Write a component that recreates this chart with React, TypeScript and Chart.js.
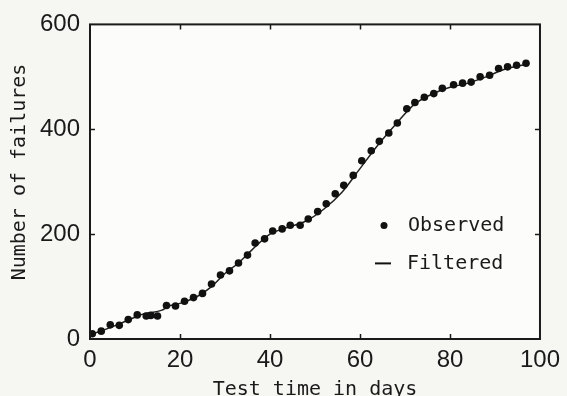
import React, { useEffect, useRef } from "react";
import { Chart, registerables } from "chart.js";

Chart.register(...registerables);

// Observed cumulative failures (test day, count)
const observedDays = [0.5, 2.5, 4.5, 6.5, 8.5, 10.5, 12.5, 13.5, 15, 17, 19, 21, 23, 25, 27, 29, 31, 33, 35, 36.7, 38.8, 40.6, 42.7, 44.5, 46.7, 48.5, 50.6, 52.5, 54.5, 56.4, 58.5, 60.4, 62.5, 64.3, 66.4, 68.3, 70.4, 72.2, 74.3, 76.4, 78.3, 80.8, 82.8, 84.7, 86.7, 88.8, 90.8, 92.8, 94.8, 96.9];
const observedFailures = [10, 15, 27, 26, 37, 46, 44, 45, 44, 64, 63, 72, 79, 87, 105, 122, 130, 145, 160, 183, 191, 206, 210, 217, 217, 229, 243, 258, 277, 293, 312, 340, 359, 377, 393, 412, 439, 451, 461, 468, 478, 485, 488, 490, 500, 503, 516, 519, 522, 526];

// Filtered curve
const filteredDays = [0, 3, 6, 9, 12, 16, 17.5, 20, 24, 27, 30, 33, 36, 40, 44, 48, 52, 56, 60, 64, 68, 72, 76, 80, 84, 88, 92, 97];
const filteredFailures = [8, 17, 27, 38, 48, 55, 63, 68, 82, 100, 125, 145, 170, 200, 213, 225, 248, 280, 325, 370, 410, 447, 467, 480, 488, 500, 514, 524];

const xTickValues = [0, 20, 40, 60, 80, 100];
const yTickValues = [0, 200, 400, 600];

const seriesLabels = ["Observed", "Filtered"];
const xTitle = "Test time in days";
const yTitle = "Number of failures";

const INK = "#1a1a1a";
const MONO = "'DejaVu Sans Mono', 'Liberation Mono', monospace";
const SANS = "'Liberation Sans', Arial, sans-serif";

const decorPlugin = {
  id: "decor",
  beforeDraw(chart: any) {
    const { ctx, chartArea: a, width, height } = chart;
    ctx.save();
    ctx.fillStyle = "#f6f6f2";
    ctx.fillRect(0, 0, width, height);
    ctx.fillStyle = "#fcfcfa";
    ctx.fillRect(a.left, a.top, a.right - a.left, a.bottom - a.top);
    ctx.restore();
  },
  afterDraw(chart: any) {
    const { ctx, chartArea: a, scales } = chart;
    const xs = scales.x;
    const ys = scales.y;
    ctx.save();
    // frame
    ctx.strokeStyle = INK;
    ctx.lineWidth = 2;
    ctx.strokeRect(a.left, a.top, a.right - a.left, a.bottom - a.top);
    // inward ticks
    const tl = 5;
    ctx.beginPath();
    xTickValues.slice(1, -1).forEach((v) => {
      const px = Math.round(xs.getPixelForValue(v)) + 0.5;
      ctx.moveTo(px, a.bottom);
      ctx.lineTo(px, a.bottom - tl);
      ctx.moveTo(px, a.top);
      ctx.lineTo(px, a.top + tl);
    });
    yTickValues.slice(1, -1).forEach((v) => {
      const py = Math.round(ys.getPixelForValue(v)) + 0.5;
      ctx.moveTo(a.left, py);
      ctx.lineTo(a.left + tl, py);
      ctx.moveTo(a.right, py);
      ctx.lineTo(a.right - tl, py);
    });
    ctx.lineWidth = 1.5;
    ctx.stroke();

    // axis titles
    ctx.fillStyle = INK;
    ctx.font = `20px ${MONO}`;
    ctx.textAlign = "center";
    ctx.textBaseline = "alphabetic";
    ctx.fillText(xTitle, (a.left + a.right) / 2, 395);
    ctx.save();
    ctx.translate(25, 172);
    ctx.rotate(-Math.PI / 2);
    ctx.fillText(yTitle, 0, 0);
    ctx.restore();

    // legend
    const lx = a.left + 285;
    const y1 = a.top + 201;
    const y2 = a.top + 239;
    ctx.fillStyle = "#111";
    ctx.beginPath();
    ctx.arc(lx + 9, y1, 3.5, 0, Math.PI * 2);
    ctx.fill();
    ctx.strokeStyle = "#111";
    ctx.lineWidth = 2;
    ctx.beginPath();
    ctx.moveTo(lx, y2);
    ctx.lineTo(lx + 16, y2);
    ctx.stroke();
    ctx.fillStyle = INK;
    ctx.textAlign = "left";
    ctx.textBaseline = "middle";
    ctx.font = `20px ${MONO}`;
    ctx.fillText(seriesLabels[0], lx + 33, y1);
    ctx.fillText(seriesLabels[1], lx + 32, y2);
    ctx.restore();
  },
};

export default function App() {
  const ref = useRef<HTMLCanvasElement | null>(null);
  useEffect(() => {
    document.body.style.margin = "0";
    const canvas = ref.current;
    if (!canvas) return;
    const chart = new Chart(canvas, {
      type: "scatter",
      data: {
        datasets: [
          {
            label: seriesLabels[0],
            data: observedDays.map((d, i) => ({ x: d, y: observedFailures[i] })),
            pointRadius: 3.8,
            pointStyle: "circle",
            backgroundColor: "#111",
            borderColor: "#111",
            borderWidth: 0,
            showLine: false,
            order: 1,
          },
          {
            label: seriesLabels[1],
            data: filteredDays.map((d, i) => ({ x: d, y: filteredFailures[i] })),
            showLine: true,
            pointRadius: 0,
            borderColor: "#222",
            borderWidth: 1.5,
            cubicInterpolationMode: "monotone",
            order: 2,
          },
        ],
      },
      options: {
        responsive: false,
        animation: false,
        devicePixelRatio: 1,
        layout: { padding: { top: 24, right: 20, left: 0, bottom: 0 } },
        plugins: { legend: { display: false }, tooltip: { enabled: false } },
        scales: {
          x: {
            type: "linear",
            min: 0,
            max: 100,
            afterBuildTicks(s: any) {
              s.ticks = xTickValues.map((v) => ({ value: v }));
            },
            ticks: {
              font: { family: SANS, size: 24 },
              color: INK,
              padding: 7,
              maxRotation: 0,
              autoSkip: false,
            },
            grid: { display: false, drawTicks: false },
            border: { display: false },
            afterFit(s: any) {
              s.height = 57;
            },
          },
          y: {
            type: "linear",
            min: 0,
            max: 600,
            afterBuildTicks(s: any) {
              s.ticks = yTickValues.map((v) => ({ value: v }));
            },
            ticks: {
              font: { family: SANS, size: 24 },
              color: INK,
              padding: 10,
              autoSkip: false,
            },
            grid: { display: false, drawTicks: false },
            border: { display: false },
            afterFit(s: any) {
              s.width = 90;
            },
          },
        },
      },
      plugins: [decorPlugin],
    } as any);
    return () => chart.destroy();
  }, []);
  return (
    <div style={{ position: "absolute", left: 0, top: 0, width: 567, height: 396 }}>
      <canvas ref={ref} width={567} height={396} style={{ width: 567, height: 396, display: "block" }} />
    </div>
  );
}
